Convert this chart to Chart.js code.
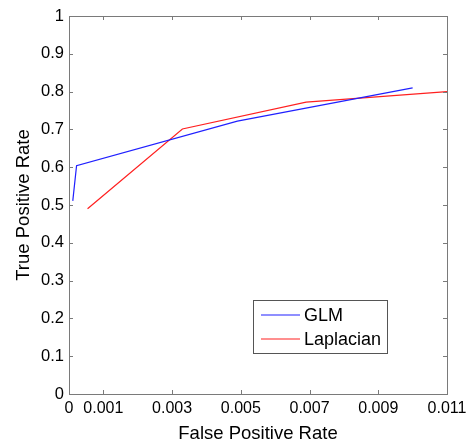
<!DOCTYPE html>
<html>
<head>
<meta charset="utf-8">
<script src="https://cdn.jsdelivr.net/npm/chart.js@4/dist/chart.umd.min.js"></script>
<style>
    html, body { margin: 0; padding: 0; background: #ffffff; }
    #wrap { width: 475px; height: 446px; position: relative; }
</style>
</head>
<body>
<div id="wrap"><canvas id="myChart" width="475" height="446"></canvas></div>
<script>
// ROC curve values
const glmFpr = [0.00011, 0.00022, 0.0049, 0.0100];
const glmTpr = [0.511, 0.604, 0.722, 0.810];
const lapFpr = [0.00054, 0.0033, 0.0069, 0.0110];
const lapTpr = [0.490, 0.701, 0.772, 0.800];
const xTicks = [0, 0.001, 0.003, 0.005, 0.007, 0.009, 0.011];
const yTicks = [0, 0.1, 0.2, 0.3, 0.4, 0.5, 0.6, 0.7, 0.8, 0.9, 1];

const fuente = '"Liberation Sans", Arial, sans-serif';

function toPoints(xs, ys) {
    return xs.map(function (x, i) { return { x: x, y: ys[i] }; });
}

/*** caja, ticks hacia dentro y leyenda (estilo MATLAB) ***/
const boxPlugin = {
    id: 'boxPlugin',
    afterDraw: function (chart) {
        let ctx = chart.ctx;
        let a = chart.chartArea;
        let sx = chart.scales.x;
        let sy = chart.scales.y;
        ctx.save();
        ctx.strokeStyle = '#7a7a7a';
        ctx.lineWidth = 1;
        ctx.strokeRect(Math.round(a.left) + 0.5, Math.round(a.top) + 0.5,
            Math.round(a.right - a.left), Math.round(a.bottom - a.top));
        ctx.beginPath();
        xTicks.forEach(function (v) {
            let px = Math.round(sx.getPixelForValue(v)) + 0.5;
            ctx.moveTo(px, a.bottom); ctx.lineTo(px, a.bottom - 4);
            ctx.moveTo(px, a.top); ctx.lineTo(px, a.top + 4);
        });
        yTicks.forEach(function (v) {
            let py = Math.round(sy.getPixelForValue(v)) + 0.5;
            ctx.moveTo(a.left, py); ctx.lineTo(a.left + 4, py);
            ctx.moveTo(a.right, py); ctx.lineTo(a.right - 4, py);
        });
        ctx.stroke();

        // leyenda
        let lx = 253, ly = 300, lw = 134, lh = 53;
        ctx.fillStyle = '#ffffff';
        ctx.fillRect(lx, ly, lw, lh);
        ctx.strokeStyle = '#555555';
        ctx.strokeRect(lx + 0.5, ly + 0.5, lw, lh);
        ctx.font = '18px ' + fuente;
        ctx.textBaseline = 'middle';
        chart.data.datasets.forEach(function (ds, i) {
            let yy = ly + 15 + i * 24;
            ctx.strokeStyle = ds.borderColor;
            ctx.lineWidth = 1.2;
            ctx.beginPath();
            ctx.moveTo(lx + 8, yy);
            ctx.lineTo(lx + 47, yy);
            ctx.stroke();
            ctx.fillStyle = '#000000';
            ctx.fillText(ds.label, lx + 51, yy + 1);
        });
        ctx.restore();
    }
};

let ctx = document.getElementById('myChart').getContext('2d');
let grafica = new Chart(ctx, {
    type: 'line',
    data: {
        datasets: [
            {
                label: 'GLM',
                data: toPoints(glmFpr, glmTpr),
                borderColor: '#2020ff',
                borderWidth: 1.2,
                pointRadius: 0,
                tension: 0,
                fill: false
            },
            {
                label: 'Laplacian',
                data: toPoints(lapFpr, lapTpr),
                borderColor: '#ff2020',
                borderWidth: 1.2,
                pointRadius: 0,
                tension: 0,
                fill: false
            }
        ]
    },
    options: {
        responsive: false,
        animation: false,
        layout: { padding: { top: 16, right: 28, left: 0, bottom: 0 } },
        plugins: {
            legend: { display: false },
            tooltip: { enabled: false }
        },
        scales: {
            x: {
                type: 'linear',
                min: 0,
                max: 0.011,
                afterBuildTicks: function (axis) {
                    axis.ticks = xTicks.map(function (v) { return { value: v }; });
                },
                afterFit: function (axis) { axis.height = 52; },
                grid: { display: false, drawTicks: false },
                border: { display: false },
                ticks: {
                    color: '#000000',
                    padding: 5,
                    maxRotation: 0,
                    autoSkip: false,
                    font: { family: fuente, size: 16 },
                    callback: function (v) { return String(v); }
                },
                title: {
                    display: true,
                    text: 'False Positive Rate',
                    color: '#000000',
                    padding: { top: 0, bottom: 0.5 },
                    font: { family: fuente, size: 18.5 }
                }
            },
            y: {
                min: 0,
                max: 1,
                afterBuildTicks: function (axis) {
                    axis.ticks = yTicks.map(function (v) { return { value: v }; });
                },
                afterFit: function (axis) { axis.width = 69; },
                grid: { display: false, drawTicks: false },
                border: { display: false },
                ticks: {
                    color: '#000000',
                    padding: 5,
                    autoSkip: false,
                    font: { family: fuente, size: 16.5 },
                    callback: function (v) { return String(v); }
                },
                title: {
                    display: true,
                    text: 'True Positive Rate',
                    color: '#000000',
                    padding: { top: 13, bottom: 0 },
                    font: { family: fuente, size: 18.5 }
                }
            }
        }
    },
    plugins: [boxPlugin]
});
</script>
</body>
</html>
